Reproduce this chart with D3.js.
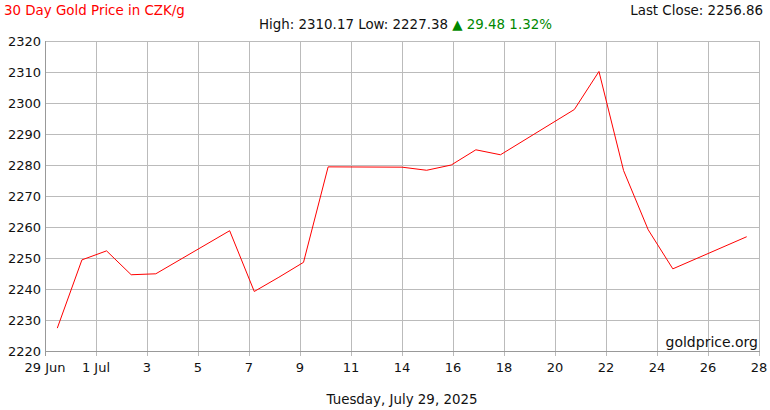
<!DOCTYPE html>
<html><head><meta charset="utf-8">
<script src="https://cdn.jsdelivr.net/npm/d3@7"></script>
<style>body{margin:0;background:#fff;}svg{display:block;font-family:"DejaVu Sans",Verdana,sans-serif;}</style>
</head><body>
<svg id="c" width="770" height="410"></svg>
<script>
const dates = ["2025-06-30","2025-07-01","2025-07-02","2025-07-03","2025-07-04",
  "2025-07-07","2025-07-08","2025-07-09","2025-07-10","2025-07-11",
  "2025-07-14","2025-07-15","2025-07-16","2025-07-17","2025-07-18",
  "2025-07-21","2025-07-22","2025-07-23","2025-07-24","2025-07-25",
  "2025-07-28"];
const prices = [2227.38,2249.4,2252.3,2244.6,2244.9,
  2258.8,2239.2,2243.8,2248.6,2279.4,
  2279.3,2278.3,2280.0,2284.9,2283.3,
  2297.9,2310.17,2278.2,2259.1,2246.5,
  2256.86];
const xTickLabels = ["29 Jun","1 Jul","3","5","7","9","11","14","16","18","20","22","24","26","28"];
const yTicks = [2220,2230,2240,2250,2260,2270,2280,2290,2300,2310,2320];

const svg = d3.select("#c");
const L=45,R=759,T=41,B=351;
const parse = d3.timeParse("%Y-%m-%d");
const data = dates.map((d,i)=>({date:parse(d),v:prices[i]}));
const x = d3.scaleTime().domain([new Date(2025,5,29,12), new Date(2025,6,28,12)]).range([L,R]);
const y = d3.scaleLinear().domain([2220,2320]).range([B,T]);
const xt = d3.scalePoint().domain(xTickLabels).range([L,R]);

// grid
svg.append("g").selectAll("line").data(yTicks).join("line")
  .attr("x1",L).attr("x2",R).attr("y1",d=>y(d)+0.5).attr("y2",d=>y(d)+0.5)
  .attr("stroke","#bbb").attr("stroke-width",1);
svg.append("g").selectAll("line").data(xTickLabels).join("line")
  .attr("x1",d=>Math.round(xt(d))+0.5).attr("x2",d=>Math.round(xt(d))+0.5).attr("y1",T).attr("y2",B+5)
  .attr("stroke","#bbb").attr("stroke-width",1);
// axis lines
svg.append("line").attr("x1",L+0.5).attr("x2",L+0.5).attr("y1",T).attr("y2",B+5).attr("stroke","#999");
svg.append("line").attr("x1",L).attr("x2",R+1).attr("y1",B+0.5).attr("y2",B+0.5).attr("stroke","#999");

// y labels
svg.append("g").selectAll("text").data(yTicks).join("text")
  .attr("x",41).attr("y",d=>y(d)+5).attr("text-anchor","end")
  .attr("font-size",13).attr("fill","#111").text(d=>d);
// x labels
svg.append("g").selectAll("text").data(xTickLabels).join("text")
  .attr("x",xt).attr("y",372).attr("text-anchor","middle")
  .attr("font-size",13).attr("fill","#111").text(d=>d);

// line
svg.append("path").datum(data)
  .attr("d",d3.line().x(d=>x(d.date)).y(d=>y(d.v)))
  .attr("fill","none").attr("stroke","#ff0000").attr("stroke-width",1);

// texts
svg.append("text").attr("x",4).attr("y",15).attr("font-size",13.4).attr("fill","#ff0000").text("30 Day Gold Price in CZK/g");
svg.append("text").attr("x",763).attr("y",15).attr("font-size",13.4).attr("fill","#111").attr("text-anchor","end").text("Last Close: 2256.86");
const hl = svg.append("text").attr("x",259).attr("y",29).attr("font-size",13.4).attr("fill","#111");
hl.append("tspan").text("High: 2310.17 Low: 2227.38 ");
hl.append("tspan").attr("fill","#008800").text("\u25B2 29.48 1.32%");
svg.append("text").attr("x",758).attr("y",347).attr("font-size",14).attr("fill","#111").attr("text-anchor","end").text("goldprice.org");
svg.append("text").attr("x",402).attr("y",404).attr("font-size",13.4).attr("fill","#111").attr("text-anchor","middle").text("Tuesday, July 29, 2025");
</script>
</body></html>
